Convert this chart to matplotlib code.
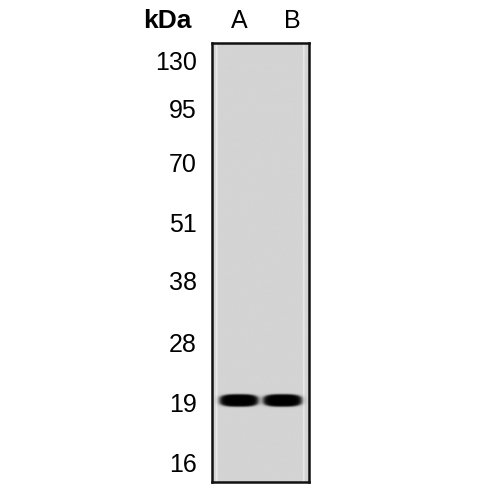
import numpy as np
import matplotlib
matplotlib.use("Agg")
import matplotlib.pyplot as plt

# marker ladder (kDa) and its row in the image (pixels from top)
markers = ["130", "95", "70", "51", "38", "28", "19", "16"]
marker_y = [61, 108, 162, 222, 280, 342, 402, 462]

lanes = ["A", "B"]
lane_label_x = [239, 292]
lane_x = [239, 283]
band_y = [401, 401]
band_half_w = [19.5, 19.5]
band_half_h = [6.2, 6.2]
band_strength = [1.0, 1.0]

plt.rcParams['font.family'] = ['Liberation Sans', 'DejaVu Sans']

fig = plt.figure(figsize=(5, 5), dpi=100)
x0, x1, y0, y1 = 212, 309, 43, 482
ax = fig.add_axes([x0 / 500, 1 - y1 / 500, (x1 - x0) / 500, (y1 - y0) / 500])

# gel image
xs = np.arange(x0, x1 + 1, 0.5)
ys = np.arange(y0, y1 + 1, 0.5)
X, Y = np.meshgrid(xs, ys)
img = np.full(X.shape, 0.83)
edge = (np.abs(X - x0 - 4.5) < 0.8) | (np.abs(X - x1 + 4.5) < 0.8)
img[edge] = 0.92
for cx, cy, hw, hh, s in zip(lane_x, band_y, band_half_w, band_half_h, band_strength):
    r = (np.abs((X - cx) / hw) ** 3 + np.abs((Y - cy) / hh) ** 3) ** (1 / 3)
    prof = 1 / (1 + np.exp((r - 1) * 14))
    img = img - s * 0.83 * prof
img = np.clip(img, 0, 1)
ax.imshow(img, cmap="gray", vmin=0, vmax=1, extent=[x0, x1, y1, y0],
          aspect="auto", interpolation="bilinear")
ax.set_xlim(x0, x1)
ax.set_ylim(y1, y0)
for sp in ax.spines.values():
    sp.set_linewidth(1.8)
    sp.set_color("#111111")

ax.set_yticks(marker_y)
ax.set_yticklabels(markers, fontsize=18)
ax.tick_params(axis="y", length=0, pad=11)
ax.set_xticks([])
for lab, lx in zip(lanes, lane_label_x):
    fig.text(lx / 500, 1 - 21 / 500, lab, fontsize=18, ha="center", va="center")

fig.text(167 / 500, 1 - 21 / 500, "kDa", fontsize=19, fontweight="bold",
         ha="center", va="center")

fig.savefig("out.png", dpi=100, facecolor="white")
